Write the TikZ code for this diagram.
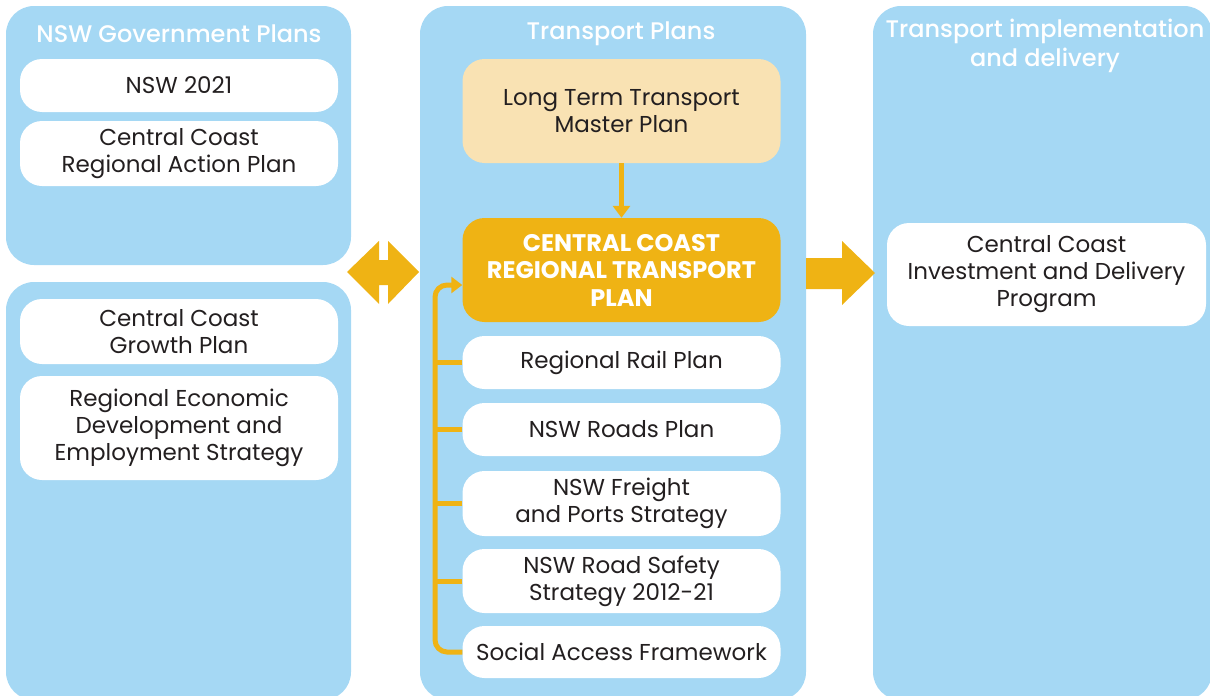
\documentclass[tikz,border=0pt]{standalone}
\usepackage{fontspec}
\setmainfont{Poppins}
\newfontfamily\headfont{Poppins Medium}
\usetikzlibrary{arrows.meta}
\definecolor{panelblue}{HTML}{A5D8F4}
\definecolor{gold}{HTML}{EFB314}
\definecolor{sand}{HTML}{F9E2B3}
\definecolor{ink}{HTML}{231F20}
\tikzset{
  panel/.style={fill=panelblue, rounded corners=28pt, inner sep=0pt, minimum height=694pt},
  head/.style={text=white, font=\fontsize{24}{29}\selectfont\headfont, align=center},
  item/.style={fill=white, rounded corners=22pt, text=ink, inner sep=0pt,
    font=\fontsize{23}{27}\selectfont, align=center, minimum width=318pt},
  key/.style={item, fill=gold, text=white, font=\fontsize{24}{27.5}\selectfont\bfseries},
  link/.style={draw=gold, line width=5pt},
  blockarrow/.style={fill=gold},
}
\begin{document}
\begin{tikzpicture}[x=1pt, y=-1pt]
\useasboundingbox (0,0) rectangle (1210,696);
\clip (0,0) rectangle (1210,696);

% column panels
\node[panel, minimum width=345pt, minimum height=259pt] (gov)  at (178.5,135.5) {};
\node[panel, minimum width=345pt, minimum height=418pt] (govb) at (178.5,491) {};
\node[panel, minimum width=386pt] (tp)   at (613,353) {};
\node[panel, minimum width=339pt] (impl) at (1042.5,353) {};

% column headings
\node[head] (govh)  at (179,34) {NSW Government Plans};
\node[head] (tph)   at (621,34) {Transport Plans};
\node[head] (implh) at (1045,46) {Transport implementation\\and delivery};

% government plans
\node[item, minimum height=53pt]  (nsw)   at (179,85.5)  {NSW 2021};
\node[item, minimum height=65pt]  (ccrap) at (179,153.5) {Central Coast\\Regional Action Plan};
\node[item, minimum height=65pt]  (ccgp)  at (179,331.5) {Central Coast\\Growth Plan};
\node[item, minimum height=104pt] (reeds) at (179,428)   {Regional Economic\\Development and\\Employment Strategy};

% transport plans
\node[item, fill=sand, minimum height=104pt] (lttmp) at (621.5,111) {Long Term Transport\\Master Plan};
\node[key, minimum height=104pt] (ccrtp) at (621.5,270) {CENTRAL COAST\\REGIONAL TRANSPORT\\PLAN};
\node[item, minimum height=53pt] (rail)    at (621.5,362.5) {Regional Rail Plan};
\node[item, minimum height=53pt] (roads)   at (621.5,429.5) {NSW Roads Plan};
\node[item, minimum height=65pt] (freight) at (621.5,503.5) {NSW Freight\\and Ports Strategy};
\node[item, minimum height=64pt] (safety)  at (621.5,581)   {NSW Road Safety\\Strategy 2012-21};
\node[item, minimum height=52pt] (saf)     at (621.5,652)   {Social Access Framework};

% implementation
\node[item, minimum width=319pt, minimum height=103pt] (ccidp) at (1046.5,274.5)
  {Central Coast\\Investment and Delivery\\Program};

% master plan feeds the regional plan
\draw[link, -{Triangle[length=12pt, width=17pt]}] (lttmp) -- (ccrtp);

% supporting plans feed the regional plan
\coordinate (bk) at (435,285);
\draw[link, rounded corners=12pt, -{Triangle[length=11pt, width=16pt]}]
  (saf.west) -| (bk) -- (ccrtp.west |- bk);
\foreach \n in {rail, roads, freight, safety}
  \draw[link] (\n.west) -- (\n.west -| bk);

% two-way arrow between government and transport plans
\fill[blockarrow] (347,272) -- (379,241) -- (379,260) -- (388,260) -- (388,241)
  -- (419,272) -- (388,304) -- (388,285) -- (379,285) -- (379,304) -- cycle;

% arrow towards implementation
\fill[blockarrow] (806,258) -- (842,258) -- (842,241) -- (875,273) -- (842,305)
  -- (842,289) -- (806,289) -- cycle;
\end{tikzpicture}
\end{document}
